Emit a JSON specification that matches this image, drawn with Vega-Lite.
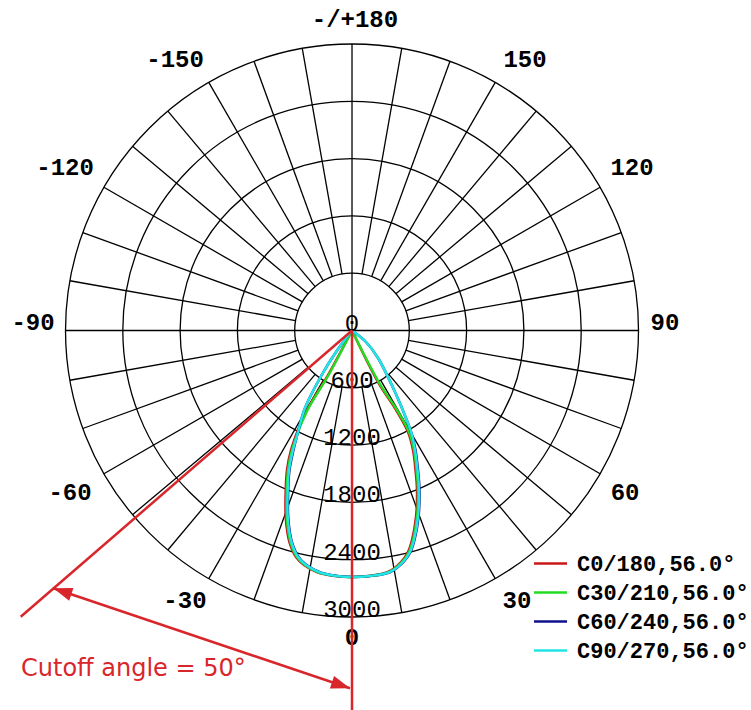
{
  "$schema": "https://vega.github.io/schema/vega-lite/v6.json",
  "width": 751,
  "height": 710,
  "padding": 0,
  "autosize": {"type": "none"},
  "background": "white",
  "config": {"view": {"stroke": null}},
  "datasets": {
    "rings": [{"r": 600}, {"r": 1200}, {"r": 1800}, {"r": 2400}, {"r": 3000}],
    "spokes": [
      {"x": -3000, "y": 0, "x2": 3000, "y2": 0},
      {"x": 0, "y": -3000, "x2": 0, "y2": 3000},
      {"x": 104.2, "y": 590.9, "x2": 520.9, "y2": 2954.4},
      {"x": -104.2, "y": 590.9, "x2": -520.9, "y2": 2954.4},
      {"x": 104.2, "y": -590.9, "x2": 520.9, "y2": -2954.4},
      {"x": -104.2, "y": -590.9, "x2": -520.9, "y2": -2954.4},
      {"x": 205.2, "y": 563.8, "x2": 1026.1, "y2": 2819.1},
      {"x": -205.2, "y": 563.8, "x2": -1026.1, "y2": 2819.1},
      {"x": 205.2, "y": -563.8, "x2": 1026.1, "y2": -2819.1},
      {"x": -205.2, "y": -563.8, "x2": -1026.1, "y2": -2819.1},
      {"x": 300, "y": 519.6, "x2": 1500, "y2": 2598.1},
      {"x": -300, "y": 519.6, "x2": -1500, "y2": 2598.1},
      {"x": 300, "y": -519.6, "x2": 1500, "y2": -2598.1},
      {"x": -300, "y": -519.6, "x2": -1500, "y2": -2598.1},
      {"x": 385.7, "y": 459.6, "x2": 1928.4, "y2": 2298.1},
      {"x": -385.7, "y": 459.6, "x2": -1928.4, "y2": 2298.1},
      {"x": 385.7, "y": -459.6, "x2": 1928.4, "y2": -2298.1},
      {"x": -385.7, "y": -459.6, "x2": -1928.4, "y2": -2298.1},
      {"x": 459.6, "y": 385.7, "x2": 2298.1, "y2": 1928.4},
      {"x": -459.6, "y": 385.7, "x2": -2298.1, "y2": 1928.4},
      {"x": 459.6, "y": -385.7, "x2": 2298.1, "y2": -1928.4},
      {"x": -459.6, "y": -385.7, "x2": -2298.1, "y2": -1928.4},
      {"x": 519.6, "y": 300, "x2": 2598.1, "y2": 1500},
      {"x": -519.6, "y": 300, "x2": -2598.1, "y2": 1500},
      {"x": 519.6, "y": -300, "x2": 2598.1, "y2": -1500},
      {"x": -519.6, "y": -300, "x2": -2598.1, "y2": -1500},
      {"x": 563.8, "y": 205.2, "x2": 2819.1, "y2": 1026.1},
      {"x": -563.8, "y": 205.2, "x2": -2819.1, "y2": 1026.1},
      {"x": 563.8, "y": -205.2, "x2": 2819.1, "y2": -1026.1},
      {"x": -563.8, "y": -205.2, "x2": -2819.1, "y2": -1026.1},
      {"x": 590.9, "y": 104.2, "x2": 2954.4, "y2": 520.9},
      {"x": -590.9, "y": 104.2, "x2": -2954.4, "y2": 520.9},
      {"x": 590.9, "y": -104.2, "x2": 2954.4, "y2": -520.9},
      {"x": -590.9, "y": -104.2, "x2": -2954.4, "y2": -520.9}
    ],
    "curves": [
      {"s": "C0/180,56.0°", "i": 0, "x": 0, "y": 0},
      {"s": "C0/180,56.0°", "i": 1, "x": -251.3, "y": -466.0},
      {"s": "C0/180,56.0°", "i": 2, "x": -481.7, "y": -853.4},
      {"s": "C0/180,56.0°", "i": 3, "x": -638.8, "y": -1251.3},
      {"s": "C0/180,56.0°", "i": 4, "x": -680.7, "y": -1460.7},
      {"s": "C0/180,56.0°", "i": 5, "x": -694.3, "y": -1670.2},
      {"s": "C0/180,56.0°", "i": 6, "x": -694.3, "y": -1952.9},
      {"s": "C0/180,56.0°", "i": 7, "x": -675.5, "y": -2120.4},
      {"s": "C0/180,56.0°", "i": 8, "x": -652.4, "y": -2225.1},
      {"s": "C0/180,56.0°", "i": 9, "x": -586.4, "y": -2371.7},
      {"s": "C0/180,56.0°", "i": 10, "x": -502.7, "y": -2455.5},
      {"s": "C0/180,56.0°", "i": 11, "x": -356.1, "y": -2534.0},
      {"s": "C0/180,56.0°", "i": 12, "x": -178.1, "y": -2570.7},
      {"s": "C0/180,56.0°", "i": 13, "x": -21, "y": -2581.2},
      {"s": "C0/180,56.0°", "i": 14, "x": 167.5, "y": -2570.7},
      {"s": "C0/180,56.0°", "i": 15, "x": 376.9, "y": -2528.8},
      {"s": "C0/180,56.0°", "i": 16, "x": 513.0, "y": -2424.1},
      {"s": "C0/180,56.0°", "i": 17, "x": 586.3, "y": -2319.4},
      {"s": "C0/180,56.0°", "i": 18, "x": 628.2, "y": -2193.7},
      {"s": "C0/180,56.0°", "i": 19, "x": 670.1, "y": -1952.9},
      {"s": "C0/180,56.0°", "i": 20, "x": 680.6, "y": -1670.2},
      {"s": "C0/180,56.0°", "i": 21, "x": 664.9, "y": -1460.7},
      {"s": "C0/180,56.0°", "i": 22, "x": 638.7, "y": -1251.3},
      {"s": "C0/180,56.0°", "i": 23, "x": 586.4, "y": -1062.8},
      {"s": "C0/180,56.0°", "i": 24, "x": 460.7, "y": -830.4},
      {"s": "C0/180,56.0°", "i": 25, "x": 272.3, "y": -539.3},
      {"s": "C0/180,56.0°", "i": 26, "x": 0, "y": 0},

      {"s": "C30/210,56.0°", "i": 0, "x": 0, "y": 0},
      {"s": "C30/210,56.0°", "i": 1, "x": -245, "y": -466.0},
      {"s": "C30/210,56.0°", "i": 2, "x": -476, "y": -853.4},
      {"s": "C30/210,56.0°", "i": 3, "x": -627.8, "y": -1251.3},
      {"s": "C30/210,56.0°", "i": 4, "x": -669.7, "y": -1460.7},
      {"s": "C30/210,56.0°", "i": 5, "x": -683.3, "y": -1670.2},
      {"s": "C30/210,56.0°", "i": 6, "x": -683.3, "y": -1952.9},
      {"s": "C30/210,56.0°", "i": 7, "x": -664.5, "y": -2120.4},
      {"s": "C30/210,56.0°", "i": 8, "x": -641.4, "y": -2225.1},
      {"s": "C30/210,56.0°", "i": 9, "x": -575.4, "y": -2371.7},
      {"s": "C30/210,56.0°", "i": 10, "x": -491.7, "y": -2455.5},
      {"s": "C30/210,56.0°", "i": 11, "x": -345.1, "y": -2534.0},
      {"s": "C30/210,56.0°", "i": 12, "x": -167.1, "y": -2570.7},
      {"s": "C30/210,56.0°", "i": 13, "x": -10, "y": -2581.2},
      {"s": "C30/210,56.0°", "i": 14, "x": 178.5, "y": -2570.7},
      {"s": "C30/210,56.0°", "i": 15, "x": 387.9, "y": -2528.8},
      {"s": "C30/210,56.0°", "i": 16, "x": 524.0, "y": -2424.1},
      {"s": "C30/210,56.0°", "i": 17, "x": 597.3, "y": -2319.4},
      {"s": "C30/210,56.0°", "i": 18, "x": 639.2, "y": -2193.7},
      {"s": "C30/210,56.0°", "i": 19, "x": 681.1, "y": -1952.9},
      {"s": "C30/210,56.0°", "i": 20, "x": 691.6, "y": -1670.2},
      {"s": "C30/210,56.0°", "i": 21, "x": 675.9, "y": -1460.7},
      {"s": "C30/210,56.0°", "i": 22, "x": 649.7, "y": -1251.3},
      {"s": "C30/210,56.0°", "i": 23, "x": 597, "y": -1062.8},
      {"s": "C30/210,56.0°", "i": 24, "x": 470, "y": -830.4},
      {"s": "C30/210,56.0°", "i": 25, "x": 280, "y": -539.3},
      {"s": "C30/210,56.0°", "i": 26, "x": 0, "y": 0},

      {"s": "C60/240,56.0°", "i": 0, "x": 0, "y": 0},
      {"s": "C60/240,56.0°", "i": 1, "x": -167.5, "y": -225.1},
      {"s": "C60/240,56.0°", "i": 2, "x": -317.3, "y": -466.0},
      {"s": "C60/240,56.0°", "i": 3, "x": -492.1, "y": -811.5},
      {"s": "C60/240,56.0°", "i": 4, "x": -565.4, "y": -1062.8},
      {"s": "C60/240,56.0°", "i": 5, "x": -612.8, "y": -1251.3},
      {"s": "C60/240,56.0°", "i": 6, "x": -654.7, "y": -1460.7},
      {"s": "C60/240,56.0°", "i": 7, "x": -668.3, "y": -1670.2},
      {"s": "C60/240,56.0°", "i": 8, "x": -668.3, "y": -1952.9},
      {"s": "C60/240,56.0°", "i": 9, "x": -649.5, "y": -2120.4},
      {"s": "C60/240,56.0°", "i": 10, "x": -626.4, "y": -2225.1},
      {"s": "C60/240,56.0°", "i": 11, "x": -560.4, "y": -2371.7},
      {"s": "C60/240,56.0°", "i": 12, "x": -476.7, "y": -2455.5},
      {"s": "C60/240,56.0°", "i": 13, "x": -330.1, "y": -2534.0},
      {"s": "C60/240,56.0°", "i": 14, "x": -152.1, "y": -2570.7},
      {"s": "C60/240,56.0°", "i": 15, "x": 5, "y": -2581.2},
      {"s": "C60/240,56.0°", "i": 16, "x": 193.5, "y": -2570.7},
      {"s": "C60/240,56.0°", "i": 17, "x": 402.9, "y": -2528.8},
      {"s": "C60/240,56.0°", "i": 18, "x": 539.0, "y": -2424.1},
      {"s": "C60/240,56.0°", "i": 19, "x": 612.3, "y": -2319.4},
      {"s": "C60/240,56.0°", "i": 20, "x": 654.2, "y": -2193.7},
      {"s": "C60/240,56.0°", "i": 21, "x": 696.1, "y": -1952.9},
      {"s": "C60/240,56.0°", "i": 22, "x": 706.6, "y": -1670.2},
      {"s": "C60/240,56.0°", "i": 23, "x": 690.9, "y": -1460.7},
      {"s": "C60/240,56.0°", "i": 24, "x": 664.7, "y": -1251.3},
      {"s": "C60/240,56.0°", "i": 25, "x": 628.3, "y": -1094.2},
      {"s": "C60/240,56.0°", "i": 26, "x": 572.8, "y": -937.2},
      {"s": "C60/240,56.0°", "i": 27, "x": 450.3, "y": -644.0},
      {"s": "C60/240,56.0°", "i": 28, "x": 272.3, "y": -288.0},
      {"s": "C60/240,56.0°", "i": 29, "x": 146.6, "y": -120.4},
      {"s": "C60/240,56.0°", "i": 30, "x": 0, "y": 0},

      {"s": "C90/270,56.0°", "i": 0, "x": 0, "y": 0},
      {"s": "C90/270,56.0°", "i": 1, "x": -167.5, "y": -225.1},
      {"s": "C90/270,56.0°", "i": 2, "x": -317.3, "y": -466.0},
      {"s": "C90/270,56.0°", "i": 3, "x": -492.1, "y": -811.5},
      {"s": "C90/270,56.0°", "i": 4, "x": -565.4, "y": -1062.8},
      {"s": "C90/270,56.0°", "i": 5, "x": -617.8, "y": -1251.3},
      {"s": "C90/270,56.0°", "i": 6, "x": -659.7, "y": -1460.7},
      {"s": "C90/270,56.0°", "i": 7, "x": -673.3, "y": -1670.2},
      {"s": "C90/270,56.0°", "i": 8, "x": -673.3, "y": -1952.9},
      {"s": "C90/270,56.0°", "i": 9, "x": -654.5, "y": -2120.4},
      {"s": "C90/270,56.0°", "i": 10, "x": -631.4, "y": -2225.1},
      {"s": "C90/270,56.0°", "i": 11, "x": -565.4, "y": -2371.7},
      {"s": "C90/270,56.0°", "i": 12, "x": -481.7, "y": -2455.5},
      {"s": "C90/270,56.0°", "i": 13, "x": -335.1, "y": -2534.0},
      {"s": "C90/270,56.0°", "i": 14, "x": -157.1, "y": -2570.7},
      {"s": "C90/270,56.0°", "i": 15, "x": 0, "y": -2581.2},
      {"s": "C90/270,56.0°", "i": 16, "x": 188.5, "y": -2570.7},
      {"s": "C90/270,56.0°", "i": 17, "x": 397.9, "y": -2528.8},
      {"s": "C90/270,56.0°", "i": 18, "x": 534.0, "y": -2424.1},
      {"s": "C90/270,56.0°", "i": 19, "x": 607.3, "y": -2319.4},
      {"s": "C90/270,56.0°", "i": 20, "x": 649.2, "y": -2193.7},
      {"s": "C90/270,56.0°", "i": 21, "x": 691.1, "y": -1952.9},
      {"s": "C90/270,56.0°", "i": 22, "x": 701.6, "y": -1670.2},
      {"s": "C90/270,56.0°", "i": 23, "x": 685.9, "y": -1460.7},
      {"s": "C90/270,56.0°", "i": 24, "x": 659.7, "y": -1251.3},
      {"s": "C90/270,56.0°", "i": 25, "x": 628.3, "y": -1094.2},
      {"s": "C90/270,56.0°", "i": 26, "x": 572.8, "y": -937.2},
      {"s": "C90/270,56.0°", "i": 27, "x": 450.3, "y": -644.0},
      {"s": "C90/270,56.0°", "i": 28, "x": 272.3, "y": -288.0},
      {"s": "C90/270,56.0°", "i": 29, "x": 146.6, "y": -120.4},
      {"s": "C90/270,56.0°", "i": 30, "x": 0, "y": 0}
    ],
    "rlabels": [
      {"label": "0", "x": 0, "y": 0},
      {"label": "600", "x": 0, "y": -600},
      {"label": "1200", "x": 0, "y": -1200},
      {"label": "1800", "x": 0, "y": -1800},
      {"label": "2400", "x": 0, "y": -2400},
      {"label": "3000", "x": 0, "y": -3000}
    ],
    "alabels": [
      {"label": "-/+180", "x": 31, "y": 3251},
      {"label": "-150", "x": -1853, "y": 2832},
      {"label": "150", "x": 1812, "y": 2832},
      {"label": "-120", "x": -3005, "y": 1702},
      {"label": "120", "x": 2932, "y": 1702},
      {"label": "-90", "x": -3340, "y": 79},
      {"label": "90", "x": 3277, "y": 79},
      {"label": "-60", "x": -2953, "y": -1702},
      {"label": "60", "x": 2859, "y": -1702},
      {"label": "-30", "x": -1749, "y": -2832},
      {"label": "30", "x": 1728, "y": -2832},
      {"label": "0", "x": 0, "y": -3220}
    ],
    "redlines": [
      {"x": 0, "y": 0, "x2": -3469, "y2": -2997},
      {"x": 0, "y": 0, "x2": 0, "y2": -3974},
      {"x": -3127.7, "y": -2699.5, "x2": -20.9, "y2": -3746.6}
    ]
  },
  "layer": [
    {
      "data": {"name": "rings"},
      "mark": {"type": "arc", "filled": false, "stroke": "#000", "strokeWidth": 1.3, "theta": 0, "theta2": 6.2832},
      "encoding": {
        "x": {"datum": 0, "type": "quantitative", "scale": {"domain": [-3686, 4178], "nice": false, "zero": false}, "axis": null},
        "y": {"datum": 0, "type": "quantitative", "scale": {"domain": [-3974, 3461], "nice": false, "zero": false}, "axis": null},
        "radius": {"field": "r", "type": "quantitative", "stack": null, "scale": {"type": "linear", "domain": [0, 3000], "range": [0, 286.5], "zero": true}}
      }
    },
    {
      "data": {"name": "spokes"},
      "mark": {"type": "rule", "color": "#000", "strokeWidth": 1.3},
      "encoding": {
        "x": {"field": "x", "type": "quantitative"},
        "y": {"field": "y", "type": "quantitative"},
        "x2": {"field": "x2"},
        "y2": {"field": "y2"}
      }
    },
    {
      "data": {"name": "curves"},
      "mark": {"type": "line", "strokeWidth": 2.5, "interpolate": "catmull-rom"},
      "encoding": {
        "x": {"field": "x", "type": "quantitative"},
        "y": {"field": "y", "type": "quantitative"},
        "order": {"field": "i", "type": "quantitative"},
        "color": {
          "field": "s",
          "type": "nominal",
          "scale": {
            "domain": ["C0/180,56.0°", "C30/210,56.0°", "C60/240,56.0°", "C90/270,56.0°"],
            "range": ["#c81818", "#22dd22", "#10108c", "#22e6e6"]
          },
          "legend": {
            "orient": "none",
            "legendX": 538,
            "legendY": 551,
            "title": null,
            "padding": 0,
            "symbolType": "M-1.5,0L1.5,0",
            "symbolSize": 484,
            "symbolStrokeWidth": 2.5,
            "labelFont": "Liberation Mono",
            "labelFontSize": 22,
            "labelFontWeight": "bold",
            "labelColor": "#000",
            "labelOffset": 14,
            "rowPadding": 5,
            "labelLimit": 300
          }
        }
      }
    },
    {
      "data": {"name": "rlabels"},
      "mark": {"type": "text", "font": "Liberation Mono", "fontSize": 24, "align": "center", "baseline": "alphabetic", "color": "#000"},
      "encoding": {
        "x": {"field": "x", "type": "quantitative"},
        "y": {"field": "y", "type": "quantitative"},
        "text": {"field": "label"}
      }
    },
    {
      "data": {"name": "alabels"},
      "mark": {"type": "text", "font": "Liberation Mono", "fontSize": 24, "fontWeight": "bold", "align": "center", "baseline": "middle", "color": "#000"},
      "encoding": {
        "x": {"field": "x", "type": "quantitative"},
        "y": {"field": "y", "type": "quantitative"},
        "text": {"field": "label"}
      }
    },
    {
      "data": {"name": "redlines"},
      "mark": {"type": "rule", "color": "#d9262b", "strokeWidth": 2.5},
      "encoding": {
        "x": {"field": "x", "type": "quantitative"},
        "y": {"field": "y", "type": "quantitative"},
        "x2": {"field": "x2"},
        "y2": {"field": "y2"}
      }
    },
    {
      "data": {"values": [{"x": -20.9, "y": -3746.6}]},
      "mark": {"type": "point", "shape": "M0,0L-0.7,2L0.7,2Z", "size": 361, "angle": 108.6, "filled": true, "color": "#d9262b", "opacity": 1, "strokeWidth": 0},
      "encoding": {
        "x": {"field": "x", "type": "quantitative"},
        "y": {"field": "y", "type": "quantitative"}
      }
    },
    {
      "data": {"values": [{"x": -3127.7, "y": -2699.5}]},
      "mark": {"type": "point", "shape": "M0,0L-0.7,2L0.7,2Z", "size": 361, "angle": 288.6, "filled": true, "color": "#d9262b", "opacity": 1, "strokeWidth": 0},
      "encoding": {
        "x": {"field": "x", "type": "quantitative"},
        "y": {"field": "y", "type": "quantitative"}
      }
    },
    {
      "data": {"values": [{"label": "Cutoff angle = 50°", "x": -3466, "y": -3545}]},
      "mark": {"type": "text", "font": "DejaVu Sans", "fontSize": 24, "align": "left", "baseline": "middle", "color": "#d9262b"},
      "encoding": {
        "x": {"field": "x", "type": "quantitative"},
        "y": {"field": "y", "type": "quantitative"},
        "text": {"field": "label"}
      }
    }
  ]
}
